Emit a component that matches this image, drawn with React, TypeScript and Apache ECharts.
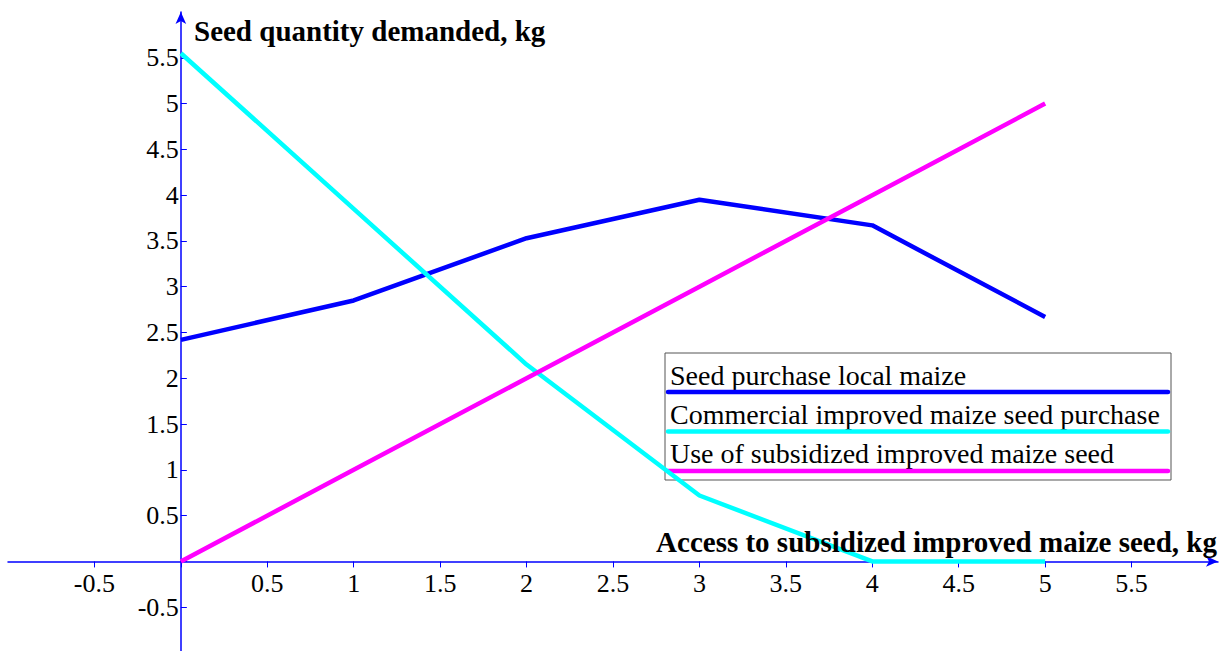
import React, { useEffect, useRef } from "react";
import * as echarts from "echarts";

const xValues = [0, 1, 2, 3, 4, 5];
const localMaize = [2.42, 2.85, 3.53, 3.95, 3.67, 2.67];
const commercialImproved = [5.55, 3.85, 2.15, 0.72, 0, 0];
const subsidizedUse = [0, 1, 2, 3, 4, 5];

const seriesNames = [
  "Seed purchase local maize",
  "Commercial improved maize seed purchase",
  "Use of subsidized improved maize seed",
];
const seriesColors = ["#0000ff", "#00ffff", "#ff00ff"];
const seriesValues = [localMaize, commercialImproved, subsidizedUse];

const yTitle = "Seed quantity demanded, kg";
const xTitle = "Access to subsidized improved maize seed, kg";

const FONT = "'Liberation Serif', 'Times New Roman', serif";

const G_LEFT = 8;
const G_TOP = 12;
const G_W = 1210;
const G_H = 641;
const X_MIN = -1, X_MAX = 6, Y_MIN = -1, Y_MAX = 6;

export default function App() {
  const ref = useRef<HTMLDivElement>(null);
  useEffect(() => {
    if (!ref.current) return;
    const chart = echarts.init(ref.current, null, { renderer: "svg" });
    const fmt = (v: number) => (Math.abs(v) < 1e-9 ? "" : String(v));
    const xPerUnit = G_W / (X_MAX - X_MIN);
    const yPerUnit = G_H / (Y_MAX - Y_MIN);
    const yAxisOffset = -(0 - X_MIN) * xPerUnit;
    const xAxisOffset = -(0 - Y_MIN) * yPerUnit;

    const legendChildren: any[] = [
      {
        type: "rect",
        shape: { x: 665, y: 353, width: 506, height: 127 },
        style: { fill: "#ffffff", stroke: "#555555", lineWidth: 1 },
      },
    ];
    seriesNames.forEach((name, i) => {
      legendChildren.push({
        type: "text",
        x: 670,
        y: 375 + i * 39,
        style: {
          text: name,
          font: `28px ${FONT}`,
          fill: "#000",
          verticalAlign: "middle",
          align: "left",
        },
      });
      legendChildren.push({
        type: "line",
        shape: { x1: 668, y1: 392 + i * 39.5, x2: 1168, y2: 392 + i * 39.5 },
        style: { stroke: seriesColors[i], lineWidth: 4.5, lineCap: "round" },
      });
    });

    chart.setOption({
      animation: false,
      backgroundColor: "#ffffff",
      grid: { left: G_LEFT, top: G_TOP, width: G_W, height: G_H, outerBoundsMode: "none", containLabel: false },
      xAxis: {
        type: "value",
        min: X_MIN,
        max: X_MAX,
        interval: 0.5,
        position: "bottom",
        offset: xAxisOffset,
        splitLine: { show: false },
        axisLine: {
          onZero: false,
          lineStyle: { color: "#0000ff", width: 1.5 },
          symbol: ["none", "arrow"],
          symbolSize: [8, 12],
        },
        axisTick: { show: true, inside: false, length: 6, lineStyle: { color: "#0000ff" } },
        axisLabel: {
          showMinLabel: false,
          showMaxLabel: false,
          formatter: fmt,
          color: "#000",
          fontFamily: FONT,
          fontSize: 26,
          margin: 9,
        },
      },
      yAxis: {
        type: "value",
        min: Y_MIN,
        max: Y_MAX,
        interval: 0.5,
        position: "left",
        offset: yAxisOffset,
        splitLine: { show: false },
        axisLine: {
          onZero: false,
          lineStyle: { color: "#0000ff", width: 1.5 },
          symbol: ["none", "arrow"],
          symbolSize: [8, 12],
        },
        axisTick: { show: true, inside: true, length: 6, lineStyle: { color: "#0000ff" } },
        axisLabel: {
          showMinLabel: false,
          showMaxLabel: false,
          formatter: fmt,
          color: "#000",
          fontFamily: FONT,
          fontSize: 26,
          margin: 2,
        },
      },
      series: seriesNames.map((name, i) => ({
        name,
        type: "line",
        data: xValues.map((x, j) => [x, seriesValues[i][j]]),
        showSymbol: false,
        symbol: "none",
        lineStyle: { color: seriesColors[i], width: 4.5 },
        itemStyle: { color: seriesColors[i] },
        z: 2,
      })),
      graphic: [
        {
          type: "text",
          x: 194,
          y: 31,
          z: 50,
          style: {
            text: yTitle,
            font: `bold 29px ${FONT}`,
            fill: "#000",
            verticalAlign: "middle",
            align: "left",
          },
        },
        {
          type: "text",
          x: 1217,
          y: 542,
          z: 50,
          style: {
            text: xTitle,
            font: `bold 29px ${FONT}`,
            fill: "#000",
            verticalAlign: "middle",
            align: "right",
          },
        },
        { type: "group", z: 100, children: legendChildren },
      ],
    });
    return () => chart.dispose();
  }, []);
  return (
    <div
      ref={ref}
      style={{ position: "fixed", left: 0, top: 0, width: 1228, height: 651 }}
    />
  );
}
